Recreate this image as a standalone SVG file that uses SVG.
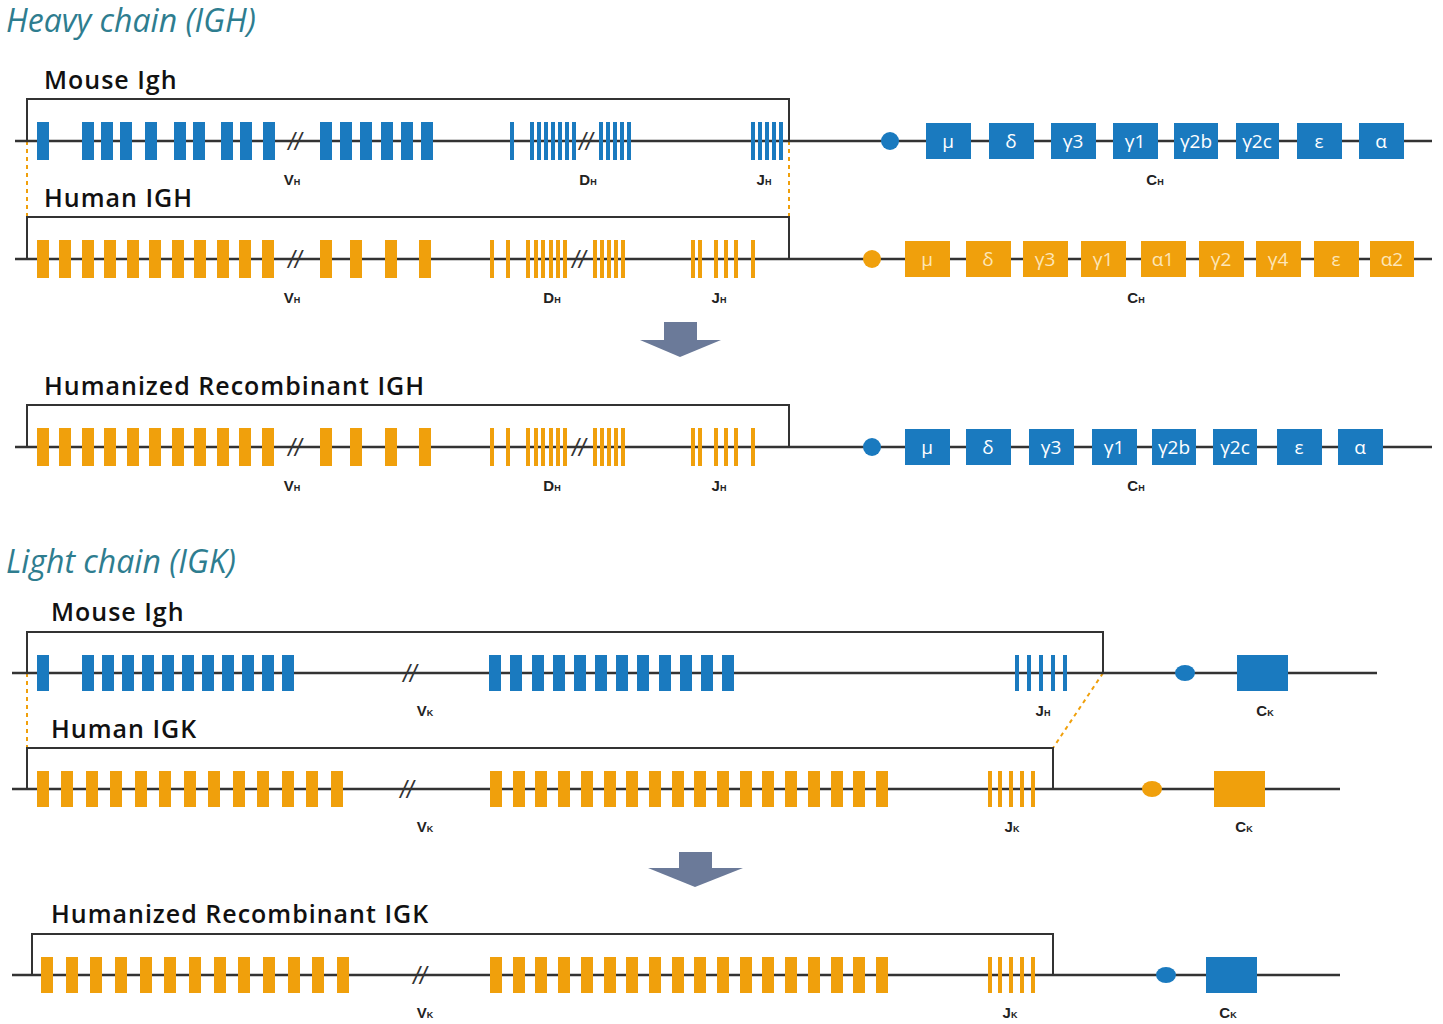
<svg xmlns="http://www.w3.org/2000/svg" xmlns:xlink="http://www.w3.org/1999/xlink" width="1443" height="1024" viewBox="0 0 1443 1024">
<style>
.ln{stroke:#333;stroke-width:2.5;fill:none}
.br{stroke:#333;stroke-width:2;fill:none}
.dot{stroke:#f0a00c;stroke-width:2;stroke-dasharray:4 4;fill:none}
.b{fill:#1a7abf}.o{fill:#f0a00c}
.h{font-family:"Open Sans","Liberation Sans",sans-serif;font-style:italic;font-size:32px;fill:#2e7d8f}
.t{font-family:"Open Sans","Liberation Sans",sans-serif;font-weight:600;font-size:25px;fill:#111;letter-spacing:1px}
.lb{font-family:"Liberation Sans",sans-serif;font-weight:bold;font-size:15px;fill:#222;text-anchor:middle}
.sb{font-size:9px}
.bx{font-family:"Open Sans","Liberation Sans",sans-serif;font-size:19px;fill:#fff;text-anchor:middle}
.bxo{font-family:"Open Sans","Liberation Sans",sans-serif;font-size:19px;fill:#fde6b8;text-anchor:middle}
.sl{font-family:"Liberation Sans",sans-serif;font-style:italic;font-size:24px;fill:#333;text-anchor:middle}
</style>
<defs>
<rect id="wb" width="12" height="38" class="b"/>
<rect id="wo" width="12" height="38" class="o"/>
<rect id="tb" width="4" height="38" class="b"/>
<rect id="to" width="4" height="38" class="o"/>
<rect id="kb" width="12" height="36" class="b"/>
<rect id="ko" width="12" height="36" class="o"/>
<rect id="kto" width="4" height="36" class="o"/>
<rect id="ktb" width="4" height="36" class="b"/>
<g id="humV">
<use href="#wo" x="37"/><use href="#wo" x="59"/><use href="#wo" x="82"/><use href="#wo" x="104"/><use href="#wo" x="127"/><use href="#wo" x="149"/><use href="#wo" x="172"/><use href="#wo" x="194"/><use href="#wo" x="217"/><use href="#wo" x="239"/><use href="#wo" x="262"/>
<use href="#wo" x="320"/><use href="#wo" x="350"/><use href="#wo" x="385"/><use href="#wo" x="419"/>
<use href="#to" x="490"/><use href="#to" x="506"/><use href="#to" x="526"/><use href="#to" x="534"/><use href="#to" x="541"/><use href="#to" x="549"/><use href="#to" x="556"/><use href="#to" x="563"/>
<use href="#to" x="593"/><use href="#to" x="600"/><use href="#to" x="607"/><use href="#to" x="614"/><use href="#to" x="621"/>
<use href="#to" x="691"/><use href="#to" x="698"/><use href="#to" x="714"/><use href="#to" x="724"/><use href="#to" x="734"/><use href="#to" x="751"/>
</g>
<g id="humVK">
<use href="#ko" x="490"/><use href="#ko" x="513"/><use href="#ko" x="535"/><use href="#ko" x="558"/><use href="#ko" x="581"/><use href="#ko" x="604"/><use href="#ko" x="626"/><use href="#ko" x="649"/><use href="#ko" x="672"/><use href="#ko" x="694"/><use href="#ko" x="717"/><use href="#ko" x="740"/><use href="#ko" x="762"/><use href="#ko" x="785"/><use href="#ko" x="808"/><use href="#ko" x="831"/><use href="#ko" x="853"/><use href="#ko" x="876"/>
<use href="#kto" x="988"/><use href="#kto" x="998"/><use href="#kto" x="1009"/><use href="#kto" x="1020"/><use href="#kto" x="1031"/>
</g>
</defs>

<text class="h" x="6" y="32">Heavy chain (IGH)</text>
<text class="h" x="6" y="573">Light chain (IGK)</text>

<g id="connectors">
<line class="dot" x1="27" y1="141" x2="27" y2="258"/>
<line class="dot" x1="789" y1="141" x2="789" y2="217"/>
<line class="dot" x1="27" y1="673" x2="27" y2="790"/>
<line class="dot" x1="1103" y1="673" x2="1053" y2="748"/>
<g fill="#6b7a99">
<rect x="664" y="322" width="33" height="19"/><polygon points="640,340 721,340 680,357"/>
<rect x="679" y="852" width="33" height="17"/><polygon points="648,868 743,868 695,887"/>
</g>
</g>

<g id="mouse-igh">
<text class="t" x="44" y="89">Mouse Igh</text>
<line class="ln" x1="15" y1="141" x2="1432" y2="141"/>
<polyline class="br" points="27,141 27,99 789,99 789,141"/>
<g transform="translate(0,122)">
<use href="#wb" x="37"/><use href="#wb" x="82"/><use href="#wb" x="101"/><use href="#wb" x="120"/><use href="#wb" x="145"/><use href="#wb" x="174"/><use href="#wb" x="193"/><use href="#wb" x="221"/><use href="#wb" x="240"/><use href="#wb" x="263"/>
<use href="#wb" x="320"/><use href="#wb" x="340"/><use href="#wb" x="360"/><use href="#wb" x="381"/><use href="#wb" x="401"/><use href="#wb" x="421"/>
<use href="#tb" x="510"/><use href="#tb" x="530"/><use href="#tb" x="537"/><use href="#tb" x="544"/><use href="#tb" x="551"/><use href="#tb" x="558"/><use href="#tb" x="565"/><use href="#tb" x="572"/>
<use href="#tb" x="599"/><use href="#tb" x="606"/><use href="#tb" x="613"/><use href="#tb" x="620"/><use href="#tb" x="627"/>
<use href="#tb" x="751"/><use href="#tb" x="758"/><use href="#tb" x="765"/><use href="#tb" x="772"/><use href="#tb" x="779"/>
</g>
<text class="sl" x="295" y="150">//</text><text class="sl" x="586" y="150">//</text>
<circle cx="890" cy="141" r="9" class="b"/>
<g class="b"><rect x="926" y="123" width="45" height="36"/><rect x="989" y="123" width="45" height="36"/><rect x="1051" y="123" width="45" height="36"/><rect x="1113" y="123" width="45" height="36"/><rect x="1174" y="123" width="44" height="36"/><rect x="1236" y="123" width="43" height="36"/><rect x="1297" y="123" width="45" height="36"/><rect x="1359" y="123" width="45" height="36"/></g>
<g class="bx"><text x="948" y="148">μ</text><text x="1011" y="148">δ</text><text x="1073" y="148">γ3</text><text x="1135" y="148">γ1</text><text x="1196" y="148">γ2b</text><text x="1257" y="148">γ2c</text><text x="1319" y="148">ε</text><text x="1381" y="148">α</text></g>
<text class="lb" x="292" y="185">V<tspan class="sb">H</tspan></text><text class="lb" x="588" y="185">D<tspan class="sb">H</tspan></text><text class="lb" x="764" y="185">J<tspan class="sb">H</tspan></text><text class="lb" x="1155" y="185">C<tspan class="sb">H</tspan></text>
</g>

<g id="human-igh">
<text class="t" x="44" y="207">Human IGH</text>
<line class="ln" x1="15" y1="259" x2="1432" y2="259"/>
<polyline class="br" points="27,259 27,217 789,217 789,259"/>
<use href="#humV" y="240"/>
<text class="sl" x="295" y="268">//</text><text class="sl" x="579" y="268">//</text>
<circle cx="872" cy="259" r="9" class="o"/>
<g class="o"><rect x="905" y="241" width="45" height="36"/><rect x="966" y="241" width="45" height="36"/><rect x="1023" y="241" width="45" height="36"/><rect x="1081" y="241" width="45" height="36"/><rect x="1141" y="241" width="45" height="36"/><rect x="1199" y="241" width="45" height="36"/><rect x="1256" y="241" width="45" height="36"/><rect x="1314" y="241" width="45" height="36"/><rect x="1370" y="241" width="44" height="36"/></g>
<g class="bxo"><text x="927" y="266">μ</text><text x="988" y="266">δ</text><text x="1045" y="266">γ3</text><text x="1103" y="266">γ1</text><text x="1163" y="266">α1</text><text x="1221" y="266">γ2</text><text x="1278" y="266">γ4</text><text x="1336" y="266">ε</text><text x="1392" y="266">α2</text></g>
<text class="lb" x="292" y="303">V<tspan class="sb">H</tspan></text><text class="lb" x="552" y="303">D<tspan class="sb">H</tspan></text><text class="lb" x="719" y="303">J<tspan class="sb">H</tspan></text><text class="lb" x="1136" y="303">C<tspan class="sb">H</tspan></text>
</g>

<g id="humanized-igh">
<text class="t" x="44" y="395">Humanized Recombinant IGH</text>
<line class="ln" x1="15" y1="447" x2="1432" y2="447"/>
<polyline class="br" points="27,447 27,405 789,405 789,447"/>
<use href="#humV" y="428"/>
<text class="sl" x="295" y="456">//</text><text class="sl" x="579" y="456">//</text>
<circle cx="872" cy="447" r="9" class="b"/>
<g class="b"><rect x="905" y="429" width="45" height="36"/><rect x="966" y="429" width="45" height="36"/><rect x="1029" y="429" width="45" height="36"/><rect x="1092" y="429" width="45" height="36"/><rect x="1152" y="429" width="44" height="36"/><rect x="1213" y="429" width="44" height="36"/><rect x="1277" y="429" width="45" height="36"/><rect x="1338" y="429" width="45" height="36"/></g>
<g class="bx"><text x="927" y="454">μ</text><text x="988" y="454">δ</text><text x="1051" y="454">γ3</text><text x="1114" y="454">γ1</text><text x="1174" y="454">γ2b</text><text x="1235" y="454">γ2c</text><text x="1299" y="454">ε</text><text x="1360" y="454">α</text></g>
<text class="lb" x="292" y="491">V<tspan class="sb">H</tspan></text><text class="lb" x="552" y="491">D<tspan class="sb">H</tspan></text><text class="lb" x="719" y="491">J<tspan class="sb">H</tspan></text><text class="lb" x="1136" y="491">C<tspan class="sb">H</tspan></text>
</g>

<g id="mouse-igk">
<text class="t" x="51" y="621">Mouse Igh</text>
<line class="ln" x1="12" y1="673" x2="1377" y2="673"/>
<polyline class="br" points="27,673 27,632 1103,632 1103,673"/>
<g transform="translate(0,655)">
<use href="#kb" x="37"/><use href="#kb" x="82"/><use href="#kb" x="102"/><use href="#kb" x="122"/><use href="#kb" x="142"/><use href="#kb" x="162"/><use href="#kb" x="182"/><use href="#kb" x="202"/><use href="#kb" x="222"/><use href="#kb" x="242"/><use href="#kb" x="262"/><use href="#kb" x="282"/>
<use href="#kb" x="489"/><use href="#kb" x="510"/><use href="#kb" x="532"/><use href="#kb" x="553"/><use href="#kb" x="574"/><use href="#kb" x="595"/><use href="#kb" x="616"/><use href="#kb" x="637"/><use href="#kb" x="659"/><use href="#kb" x="680"/><use href="#kb" x="701"/><use href="#kb" x="722"/>
<use href="#ktb" x="1015"/><use href="#ktb" x="1027"/><use href="#ktb" x="1039"/><use href="#ktb" x="1051"/><use href="#ktb" x="1063"/>
</g>
<text class="sl" x="410" y="682">//</text>
<ellipse cx="1185" cy="673" rx="10" ry="8" class="b"/>
<rect x="1237" y="655" width="51" height="36" class="b"/>
<text class="lb" x="425" y="716">V<tspan class="sb">K</tspan></text><text class="lb" x="1043" y="716">J<tspan class="sb">H</tspan></text><text class="lb" x="1265" y="716">C<tspan class="sb">K</tspan></text>
</g>

<g id="human-igk">
<text class="t" x="51" y="738">Human IGK</text>
<line class="ln" x1="12" y1="789" x2="1340" y2="789"/>
<polyline class="br" points="27,789 27,748 1053,748 1053,789"/>
<g transform="translate(0,771)">
<use href="#ko" x="37"/><use href="#ko" x="61"/><use href="#ko" x="86"/><use href="#ko" x="110"/><use href="#ko" x="135"/><use href="#ko" x="159"/><use href="#ko" x="184"/><use href="#ko" x="208"/><use href="#ko" x="233"/><use href="#ko" x="257"/><use href="#ko" x="282"/><use href="#ko" x="306"/><use href="#ko" x="331"/>
<use href="#humVK"/>
</g>
<text class="sl" x="407" y="798">//</text>
<ellipse cx="1152" cy="789" rx="10" ry="8" class="o"/>
<rect x="1214" y="771" width="51" height="36" class="o"/>
<text class="lb" x="425" y="832">V<tspan class="sb">K</tspan></text><text class="lb" x="1012" y="832">J<tspan class="sb">K</tspan></text><text class="lb" x="1244" y="832">C<tspan class="sb">K</tspan></text>
</g>

<g id="humanized-igk">
<text class="t" x="51" y="923">Humanized Recombinant IGK</text>
<line class="ln" x1="12" y1="975" x2="1340" y2="975"/>
<polyline class="br" points="32,975 32,934 1053,934 1053,975"/>
<g transform="translate(0,957)">
<use href="#ko" x="41"/><use href="#ko" x="66"/><use href="#ko" x="90"/><use href="#ko" x="115"/><use href="#ko" x="140"/><use href="#ko" x="164"/><use href="#ko" x="189"/><use href="#ko" x="214"/><use href="#ko" x="238"/><use href="#ko" x="263"/><use href="#ko" x="288"/><use href="#ko" x="312"/><use href="#ko" x="337"/>
<use href="#humVK"/>
</g>
<text class="sl" x="420" y="984">//</text>
<ellipse cx="1166" cy="975" rx="10" ry="8" class="b"/>
<rect x="1206" y="957" width="51" height="36" class="b"/>
<text class="lb" x="425" y="1018">V<tspan class="sb">K</tspan></text><text class="lb" x="1010" y="1018">J<tspan class="sb">K</tspan></text><text class="lb" x="1228" y="1018">C<tspan class="sb">K</tspan></text>
</g>
</svg>
